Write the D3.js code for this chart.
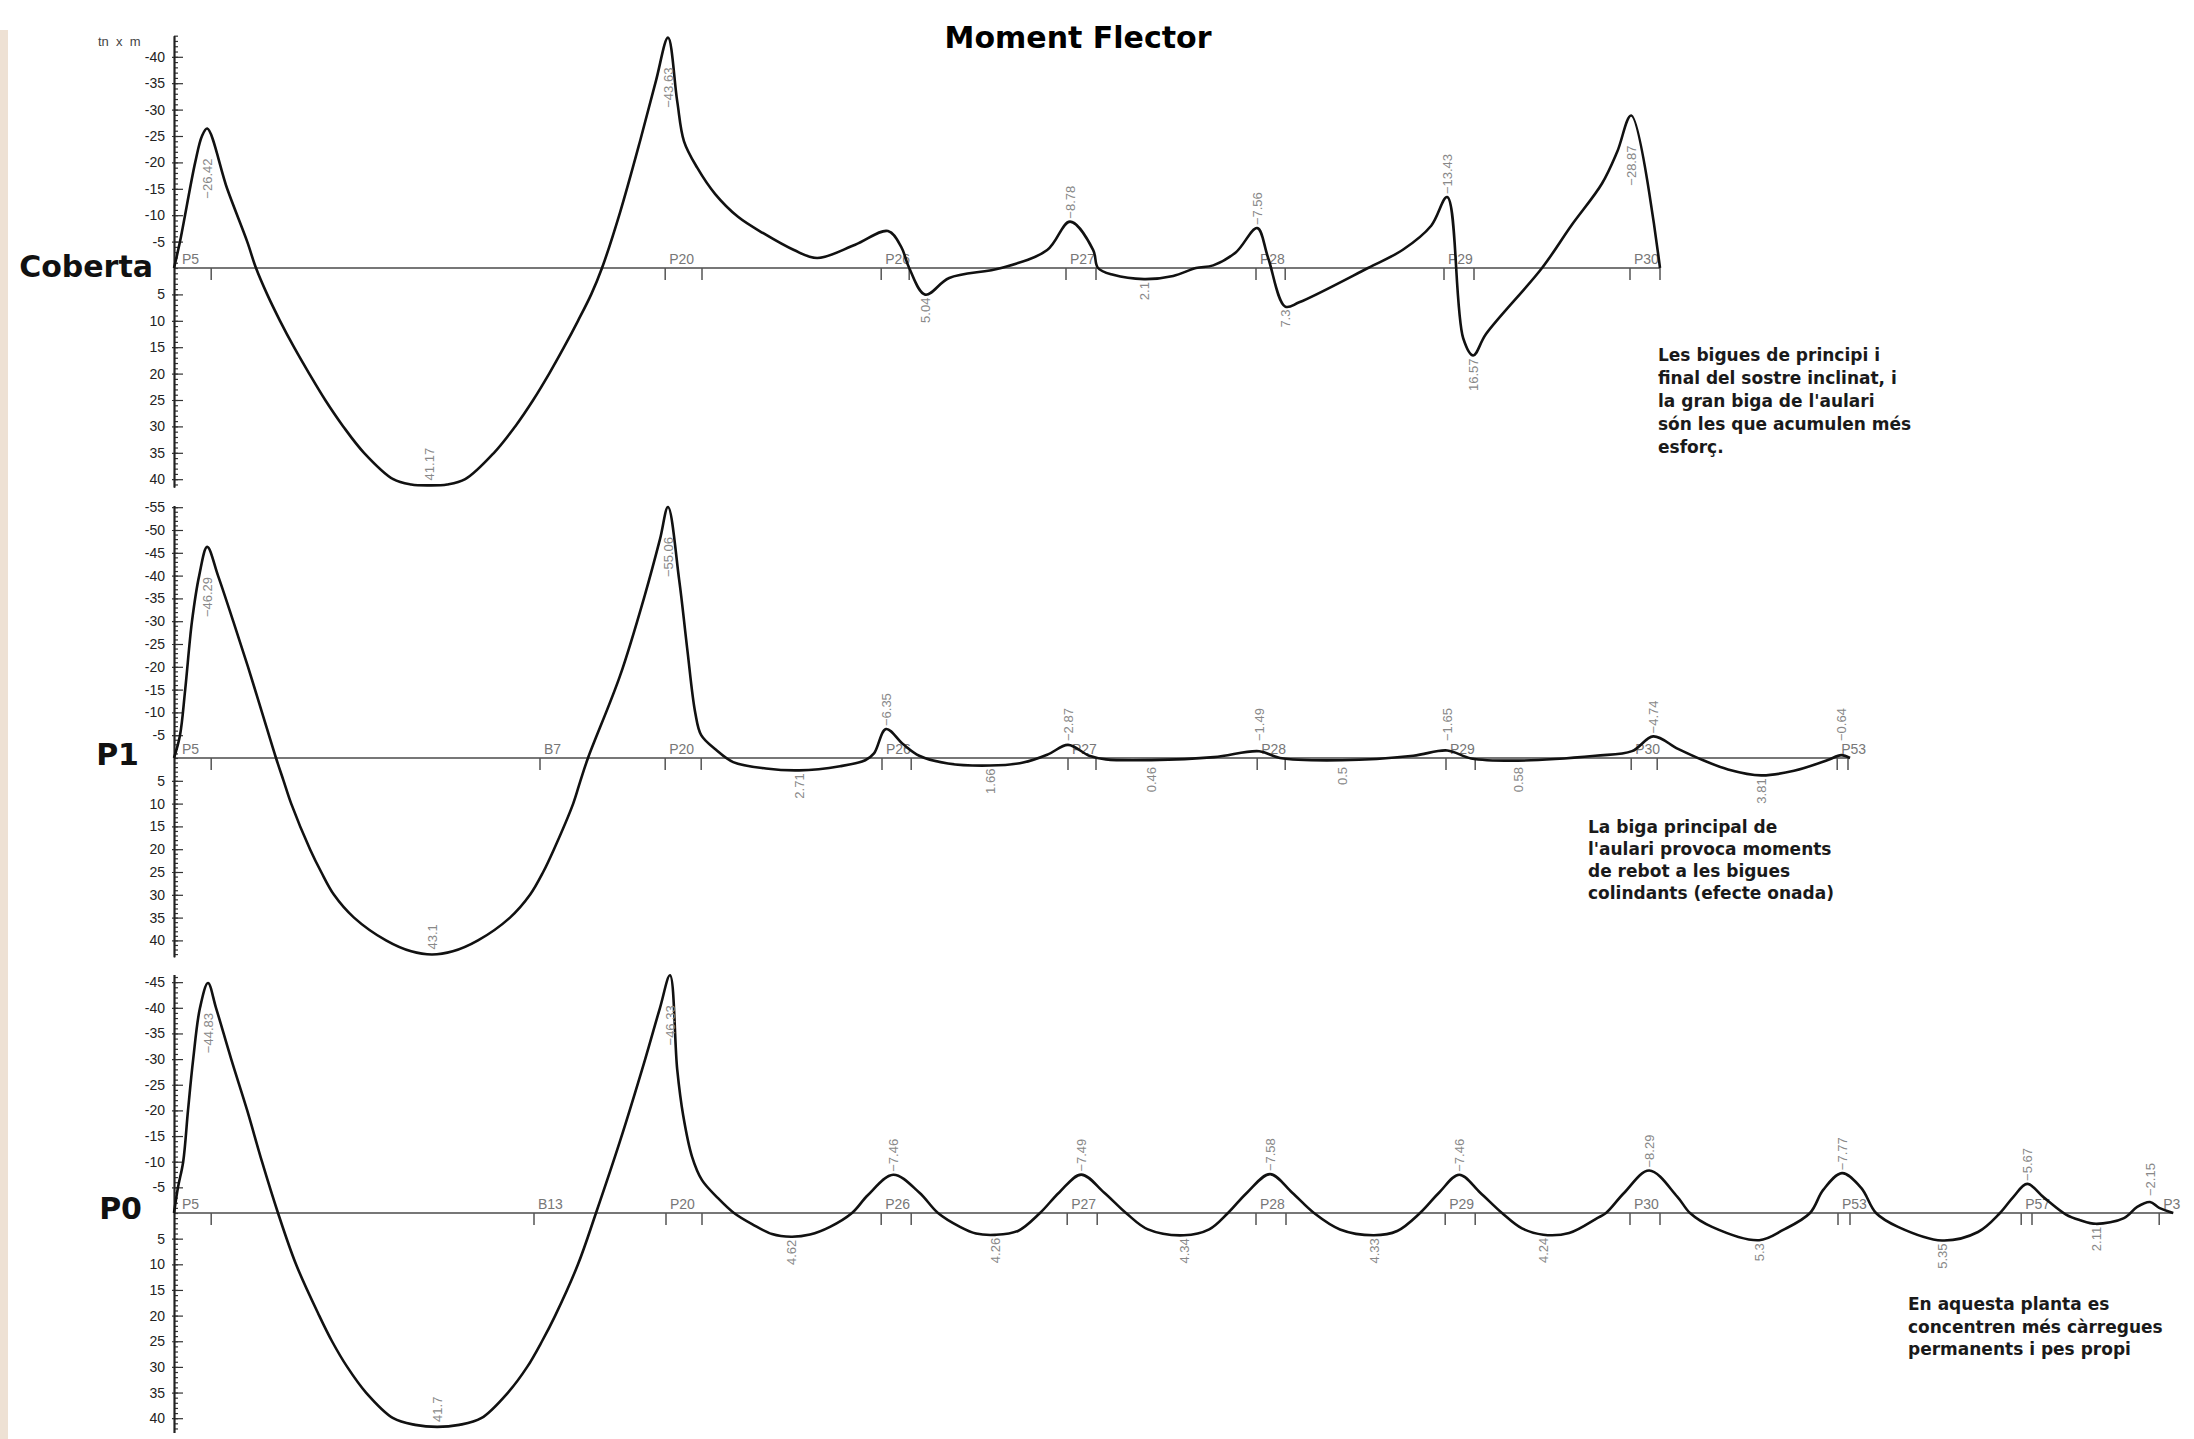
<!DOCTYPE html>
<html>
<head>
<meta charset="utf-8">
<script src="https://cdn.jsdelivr.net/npm/d3@7"></script>
<style>
  body { margin: 0; background: #fff; }
</style>
</head>
<body>
<div id="chart"></div>
<script>

// station along the beam (m) and bending moment (tn x m), negative = hogging (drawn up)
var cobertaPts = [
  [0, 0], [0.15, -5], [0.53, -20], [0.70, -25], [0.83, -26.42], [1.33, -15], [1.83, -5], [2.05, 0],
  [2.33, 5], [2.65, 10], [3.00, 15], [3.38, 20], [3.78, 25], [4.23, 30], [4.75, 35], [5.48, 40],
  [5.93, 41.0], [6.38, 41.17], [6.83, 41.0], [7.28, 40], [8.00, 35], [8.53, 30], [8.98, 25], [9.38, 20],
  [9.75, 15], [10.10, 10], [10.43, 5], [10.70, 0], [11.15, -10.5], [11.65, -24], [12.05, -35.5],
  [12.35, -43.63], [12.58, -31.6], [12.75, -24], [13.08, -19], [13.53, -14], [14.10, -9.7], [14.73, -6.6],
  [15.50, -3.4], [16.08, -1.9], [17.03, -4.4], [17.85, -7.0], [18.18, -4], [18.38, 0], [18.78, 5.04],
  [19.38, 1.9], [20.68, 0], [21.83, -3.4], [22.40, -8.78], [22.98, -3.4], [23.10, 0], [23.48, 1.3],
  [24.25, 2.1], [24.98, 1.5], [25.55, 0], [25.98, -0.5], [26.55, -3], [27.08, -7.56], [27.35, -2],
  [27.78, 7.3], [28.13, 6.5], [29.85, 0], [30.73, -3.5], [31.43, -8], [31.83, -13.43], [32.23, 13.3],
  [32.48, 16.57], [32.80, 12.5], [34.20, 0], [34.93, -8], [35.70, -16], [36.08, -22], [36.43, -28.87],
  [37.15, 0]
];
var p1Pts = [
  [0, 0], [0.15, -5], [0.28, -15], [0.45, -30], [0.63, -40], [0.83, -46.29], [1.10, -40], [1.48, -30],
  [1.85, -20], [2.20, -10], [2.55, 0], [2.74, 5], [2.93, 10], [3.40, 20], [3.68, 25], [4.00, 30],
  [4.50, 35], [5.30, 40], [5.93, 42.4], [6.45, 43.1], [6.97, 42.4], [7.60, 40], [8.40, 35], [8.90, 30],
  [9.23, 25], [9.50, 20], [9.98, 10], [10.16, 5], [10.35, 0], [11.15, -18], [11.78, -36], [12.15, -48],
  [12.35, -55.06], [12.63, -39], [12.83, -24], [13.03, -10], [13.18, -5], [13.55, -1.8], [13.98, 0.9],
  [14.80, 2.3], [15.63, 2.71], [16.65, 1.8], [17.28, 0.5], [17.50, -1], [17.80, -6.35], [18.23, -3],
  [18.63, -0.5], [19.35, 1.2], [20.40, 1.66], [21.23, 1.0], [21.85, -0.8], [22.35, -2.87], [22.88, -0.5],
  [23.30, 0.3], [24.43, 0.46], [26.00, -0.2], [27.13, -1.49], [27.65, 0], [29.20, 0.5], [30.98, -0.5],
  [31.83, -1.65], [32.43, 0.1], [33.60, 0.58], [35.53, -0.5], [36.45, -1.5], [36.98, -4.74], [37.60, -2],
  [38.23, 0.5], [38.85, 2.5], [39.68, 3.81], [40.50, 2.8], [41.33, 0.5], [41.68, -0.64], [41.90, 0]
];
var p0Pts = [
  [0, 0], [0.10, -5], [0.23, -10], [0.35, -20], [0.48, -30], [0.65, -40], [0.85, -44.83], [1.05, -40],
  [1.43, -30], [1.83, -20], [2.20, -10], [2.60, 0], [3.05, 10], [3.63, 20], [3.95, 25], [4.33, 30],
  [4.80, 35], [5.48, 40], [6.03, 41.3], [6.58, 41.7], [7.13, 41.3], [7.68, 40], [8.35, 35], [8.83, 30],
  [9.20, 25], [9.53, 20], [10.10, 10], [10.55, 0], [11.15, -14], [11.78, -30], [12.15, -40],
  [12.40, -46.33], [12.58, -28], [12.73, -19], [12.95, -11], [13.20, -6.4], [13.60, -2.9], [14.00, 0],
  [14.48, 2.3], [14.95, 4.1], [15.43, 4.62], [15.90, 4.2], [16.40, 2.7], [16.95, 0], [17.35, -3.5],
  [17.98, -7.46], [18.63, -4], [19.10, 0], [19.65, 2.7], [20.05, 4], [20.53, 4.26], [21.10, 3.5],
  [21.65, 0], [22.13, -4], [22.68, -7.49], [23.25, -4], [23.80, 0], [24.35, 3.2], [25.25, 4.34],
  [25.88, 3.2], [26.35, 0], [26.83, -4], [27.40, -7.58], [27.95, -4], [28.50, 0], [29.15, 3.2],
  [30.00, 4.33], [30.58, 3.5], [31.15, 0], [31.63, -4], [32.13, -7.46], [32.65, -4], [33.20, 0],
  [33.70, 3], [34.23, 4.24], [34.88, 3.9], [35.58, 1], [35.80, 0], [36.25, -3.9], [36.88, -8.29],
  [37.58, -3.2], [37.90, 0], [38.45, 2.7], [39.63, 5.3], [40.23, 3.3], [40.90, 0], [41.23, -4.5],
  [41.70, -7.77], [42.18, -4.9], [42.55, 0], [43.10, 2.7], [44.20, 5.35], [45.10, 3.7], [45.65, 0],
  [45.98, -3.1], [46.33, -5.67], [46.75, -3], [47.30, 0.3], [47.65, 1.4], [48.05, 2.11], [48.75, 1],
  [49.08, -1.2], [49.40, -2.15], [49.63, -1], [49.98, 0]
];

// printed extreme values [station, value]
var cobertaLabels = [
  [0.83, -26.42], [6.38, 41.17], [12.35, -43.63], [18.78, 5.04], [22.40, -8.78], [24.25, 2.1],
  [27.08, -7.56], [27.78, 7.3], [31.83, -13.43], [32.48, 16.57], [36.43, -28.87]
];
var p1Labels = [
  [0.83, -46.29], [6.45, 43.1], [12.35, -55.06], [15.63, 2.71], [17.80, -6.35], [20.40, 1.66],
  [22.35, -2.87], [24.43, 0.46], [27.13, -1.49], [29.20, 0.5], [31.83, -1.65], [33.60, 0.58],
  [36.98, -4.74], [39.68, 3.81], [41.68, -0.64]
];
var p0Labels = [
  [0.85, -44.83], [6.58, 41.7], [12.40, -46.33], [15.43, 4.62], [17.98, -7.46], [20.53, 4.26],
  [22.68, -7.49], [25.25, 4.34], [27.40, -7.58], [30.00, 4.33], [32.13, -7.46], [34.23, 4.24],
  [36.88, -8.29], [39.63, 5.3], [41.70, -7.77], [44.20, 5.35], [46.33, -5.67], [48.05, 2.11],
  [49.40, -2.15]
];

// supports: [name, first tick, second tick]
var cobertaSupports = [
  ["P5", 0, 0.93], ["P20", 12.28, 13.20], ["P26", 17.68, 18.38], ["P27", 22.30, 23.05],
  ["P28", 27.05, 27.78], ["P29", 31.75, 32.50], ["P30", 36.40, 37.15]
];
var p1Supports = [
  ["P5", 0, 0.93], ["B7", 9.15, null], ["P20", 12.28, 13.18], ["P26", 17.70, 18.43], ["P27", 22.35, 23.05],
  ["P28", 27.08, 27.78], ["P29", 31.80, 32.53], ["P30", 36.43, 37.08], ["P53", 41.58, 41.85]
];
var p0Supports = [
  ["P5", 0, 0.93], ["B13", 9.0, null], ["P20", 12.30, 13.20], ["P26", 17.68, 18.43], ["P27", 22.33, 23.08],
  ["P28", 27.05, 27.80], ["P29", 31.78, 32.53], ["P30", 36.40, 37.15], ["P53", 41.60, 41.90],
  ["P57", 46.18, 46.45], ["P3", 49.63, null]
];

var cobertaTicks = [-40, -35, -30, -25, -20, -15, -10, -5, 5, 10, 15, 20, 25, 30, 35, 40];
var p1Ticks = [-55, -50, -45, -40, -35, -30, -25, -20, -15, -10, -5, 5, 10, 15, 20, 25, 30, 35, 40];
var p0Ticks = [-45, -40, -35, -30, -25, -20, -15, -10, -5, 5, 10, 15, 20, 25, 30, 35, 40];

var cobertaNote = ["Les bigues de principi i", "final del sostre inclinat, i", "la gran biga de l'aulari",
  "són les que acumulen més", "esforç."];
var p1Note = ["La biga principal de", "l'aulari provoca moments", "de rebot a les bigues",
  "colindants (efecte onada)"];
var p0Note = ["En aquesta planta es", "concentren més càrregues", "permanents i pes propi"];

var svgWidth = 2194, svgHeight = 1439;

var svg = d3.select("#chart").append("svg")
  .attr("width", svgWidth)
  .attr("height", svgHeight)
  .style("display", "block");

svg.append("rect").attr("width", svgWidth).attr("height", svgHeight).attr("fill", "#fff");
// beige page edge on the left
svg.append("rect").attr("x", 0).attr("y", 30).attr("width", 8).attr("height", svgHeight - 30)
  .attr("fill", "#eee1d4");

var boldFont = "'DejaVu Sans', Verdana, sans-serif";
var cadFont = "'Liberation Sans', Arial, sans-serif";

svg.append("text")
  .attr("x", 1078).attr("y", 48)
  .attr("text-anchor", "middle")
  .style("font-family", boldFont).style("font-weight", "bold").style("font-size", "30px")
  .text("Moment Flector");

svg.append("text")
  .attr("x", 98).attr("y", 46)
  .style("font-family", cadFont).style("font-size", "13px").attr("fill", "#444")
  .attr("xml:space", "preserve")
  .text("tn  x  m");

var x = d3.scaleLinear().domain([0, 50]).range([174, 2174]);

var panels = [
  { name: "Coberta", pts: cobertaPts, labels: cobertaLabels, sup: cobertaSupports, ticks: cobertaTicks,
    domain: [-44, 41.5], zero: 268, unit: 5.28, nameX: 153, nameY: 277,
    note: cobertaNote, noteX: 1658, noteY: 361, noteDy: 23 },
  { name: "P1", pts: p1Pts, labels: p1Labels, sup: p1Supports, ticks: p1Ticks,
    domain: [-55.4, 43.6], zero: 758, unit: 4.56, nameX: 139, nameY: 765,
    note: p1Note, noteX: 1588, noteY: 833, noteDy: 22 },
  { name: "P0", pts: p0Pts, labels: p0Labels, sup: p0Supports, ticks: p0Ticks,
    domain: [-46.5, 42.8], zero: 1213, unit: 5.13, nameX: 142, nameY: 1219,
    note: p0Note, noteX: 1908, noteY: 1310, noteDy: 22.5 }
];

panels.forEach(function(p) {
  var y = d3.scaleLinear()
    .domain(p.domain)
    .range([p.zero + p.domain[0] * p.unit, p.zero + p.domain[1] * p.unit]);
  var y0 = y(0);
  var g = svg.append("g");

  // zero line
  var xEnd = p.pts[p.pts.length - 1][0];
  g.append("line")
    .attr("x1", x(0)).attr("x2", x(xEnd))
    .attr("y1", y0).attr("y2", y0)
    .attr("stroke", "#777").attr("stroke-width", 2);

  // y axis: minor ticks, major ticks, labels
  var minor = d3.range(Math.ceil(p.domain[0]), Math.floor(p.domain[1]) + 1);
  var axMinor = g.append("g")
    .attr("transform", `translate(${x(0)},0)`)
    .call(d3.axisRight(y).tickValues(minor).tickSize(4).tickSizeOuter(0).tickFormat(""));
  var axMajor = g.append("g")
    .attr("transform", `translate(${x(0)},0)`)
    .call(d3.axisRight(y).tickValues(p.ticks).tickSize(9).tickSizeOuter(0).tickFormat(""));
  var axLab = g.append("g")
    .attr("transform", `translate(${x(0)},0)`)
    .call(d3.axisLeft(y).tickValues(p.ticks).tickSize(2).tickSizeOuter(0).tickPadding(7)
      .tickFormat(function(d) { return String(d); }));
  [axMinor, axMajor, axLab].forEach(function(a) {
    a.select(".domain").attr("stroke", "#222").attr("stroke-width", 1.5);
    a.selectAll(".tick line").attr("stroke", "#333").attr("stroke-width", 1.2);
  });
  axLab.selectAll(".tick text")
    .style("font-family", cadFont).style("font-size", "14px").attr("fill", "#222");

  // supports: ticks below the zero line and names
  p.sup.forEach(function(s) {
    [s[1], s[2]].forEach(function(t) {
      if (t === null || t === 0) return;
      g.append("line")
        .attr("x1", x(t)).attr("x2", x(t))
        .attr("y1", y0).attr("y2", y0 + 12)
        .attr("stroke", "#555").attr("stroke-width", 1.5);
    });
    g.append("text")
      .attr("x", x(s[1]) + (s[1] === 0 ? 8 : 4)).attr("y", y0 - 4)
      .style("font-family", cadFont).style("font-size", "14px").attr("fill", "#777")
      .text(s[0]);
  });

  // moment curve
  var line = d3.line()
    .x(function(d) { return x(d[0]); })
    .y(function(d) { return y(d[1]); })
    .curve(d3.curveCatmullRom.alpha(0.5));
  g.append("path")
    .datum(p.pts)
    .attr("d", line)
    .attr("fill", "none")
    .attr("stroke", "#111")
    .attr("stroke-width", 2.6)
    .attr("stroke-linejoin", "round");

  // value labels, written vertically
  p.labels.forEach(function(l) {
    var v = l[1], px = x(l[0]), py = y(v);
    var anchor, ay;
    if (v < 0) {
      if (v < -20) { anchor = "end"; ay = py + 30; }
      else { anchor = "start"; ay = Math.min(py, y0 - 14) - 3; }
    } else {
      if (v > 20) { anchor = "start"; ay = py - 5; }
      else { anchor = "end"; ay = Math.max(py, y0 + 6) + 3; }
    }
    g.append("text")
      .attr("transform", `translate(${px},${ay}) rotate(-90)`)
      .attr("text-anchor", anchor)
      .attr("dy", "0.35em")
      .style("font-family", cadFont).style("font-size", "13px").attr("fill", "#888")
      .text((v < 0 ? "\u2212" : "") + Math.abs(v));
  });

  // floor name
  g.append("text")
    .attr("x", p.nameX).attr("y", p.nameY)
    .attr("text-anchor", "end")
    .style("font-family", boldFont).style("font-weight", "bold").style("font-size", "30px")
    .attr("fill", "#111")
    .text(p.name);

  // comment
  g.append("text")
    .style("font-family", boldFont).style("font-weight", "bold").style("font-size", "17px")
    .attr("fill", "#1a1a1a")
    .selectAll("tspan")
    .data(p.note)
    .enter()
    .append("tspan")
    .attr("x", p.noteX)
    .attr("y", function(d, i) { return p.noteY + i * p.noteDy; })
    .text(function(d) { return d; });
});

</script>
</body>
</html>
